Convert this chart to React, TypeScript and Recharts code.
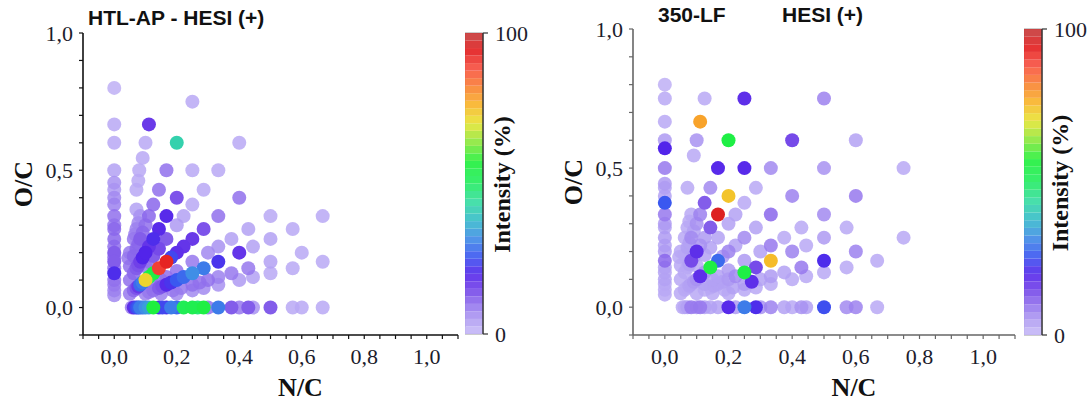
import React from 'react';
import { ScatterChart, Scatter, XAxis, YAxis, BarChart, Bar, ReferenceArea } from 'recharts';

type Pt = [number, number, number]; // [N/C, O/C, intensity %]

// ---------- HTL-AP - HESI (+) ----------
const leftColumn: Pt[] = [
  [0, 0.8, 2], [0, 0.667, 3], [0, 0.6, 3], [0, 0.5, 4], [0, 0.455, 6], [0, 0.429, 5], [0, 0.4, 7],
  [0, 0.375, 8], [0, 0.333, 10], [0, 0.3, 9], [0, 0.286, 11], [0, 0.25, 11], [0, 0.222, 10], [0, 0.2, 12],
  [0, 0.182, 11], [0, 0.167, 12], [0, 0.143, 10], [0, 0.125, 21], [0, 0.1, 10], [0, 0.083, 9], [0, 0.0625, 8], [0, 0.045, 7],
];
const leftRow: Pt[] = [
  [0.056, 0, 9], [0.0625, 0, 18], [0.071, 0, 24], [0.077, 0, 26], [0.083, 0, 30], [0.091, 0, 28], [0.1, 0, 32],
  [0.111, 0, 34], [0.125, 0, 56], [0.143, 0, 20], [0.154, 0, 24], [0.167, 0, 22], [0.182, 0, 30], [0.2, 0, 28],
  [0.222, 0, 52], [0.25, 0, 53], [0.267, 0, 48], [0.286, 0, 55], [0.3, 0, 10], [0.333, 0, 30], [0.375, 0, 12],
  [0.4, 0, 9], [0.429, 0, 12], [0.444, 0, 6], [0.5, 0, 12], [0.571, 0, 3], [0.6, 0, 3], [0.667, 0, 3],
];
const leftRayOne: Pt[] = [
  [0.05, 0.05, 9], [0.0625, 0.0625, 11], [0.071, 0.071, 13], [0.077, 0.077, 16], [0.083, 0.083, 28], [0.091, 0.091, 30],
  [0.1, 0.1, 72], [0.111, 0.111, 50], [0.125, 0.125, 55], [0.143, 0.143, 90], [0.167, 0.167, 93], [0.182, 0.182, 24],
  [0.2, 0.2, 18], [0.222, 0.222, 17], [0.25, 0.25, 16], [0.286, 0.286, 13], [0.333, 0.333, 10], [0.4, 0.4, 10],
];
const leftRayTwo: Pt[] = [
  [0.05, 0.1, 10], [0.0625, 0.125, 11], [0.071, 0.143, 12], [0.077, 0.154, 13], [0.083, 0.167, 15], [0.091, 0.182, 20],
  [0.1, 0.2, 20], [0.111, 0.222, 17], [0.125, 0.25, 21], [0.143, 0.286, 19], [0.167, 0.333, 19], [0.2, 0.4, 13], [0.25, 0.5, 3],
];
const leftRayThree: Pt[] = [
  [0.05, 0.15, 10], [0.0625, 0.1875, 11], [0.071, 0.214, 11], [0.077, 0.231, 11], [0.083, 0.25, 12], [0.091, 0.273, 11],
  [0.1, 0.3, 10], [0.111, 0.333, 11], [0.125, 0.375, 11], [0.143, 0.429, 10], [0.167, 0.5, 10], [0.2, 0.6, 42], [0.25, 0.75, 3],
];
const leftRayThreeHalves: Pt[] = [
  [0.1, 0.15, 9], [0.111, 0.167, 10], [0.125, 0.1875, 12], [0.143, 0.214, 14], [0.167, 0.25, 12], [0.2, 0.3, 5],
  [0.222, 0.333, 4], [0.25, 0.375, 3], [0.286, 0.429, 3], [0.333, 0.5, 3], [0.4, 0.6, 3],
];
const leftRayTwoThirds: Pt[] = [
  [0.125, 0.083, 9], [0.15, 0.1, 10], [0.167, 0.111, 10], [0.2, 0.133, 10], [0.25, 0.167, 9], [0.3, 0.2, 7],
  [0.333, 0.222, 6], [0.375, 0.25, 4], [0.429, 0.286, 4], [0.5, 0.333, 3],
];
const leftRayHalf: Pt[] = [
  [0.1, 0.05, 8], [0.111, 0.056, 9], [0.125, 0.0625, 10], [0.143, 0.071, 12], [0.154, 0.077, 13], [0.167, 0.083, 19],
  [0.182, 0.091, 22], [0.2, 0.1, 26], [0.222, 0.111, 28], [0.25, 0.125, 32], [0.286, 0.143, 30], [0.333, 0.167, 22],
  [0.4, 0.2, 17], [0.444, 0.222, 4], [0.5, 0.25, 4], [0.571, 0.286, 3], [0.667, 0.333, 3],
];
const leftRayThird: Pt[] = [
  [0.15, 0.05, 8], [0.1875, 0.0625, 9], [0.214, 0.071, 9], [0.25, 0.083, 10], [0.273, 0.091, 10], [0.3, 0.1, 10],
  [0.333, 0.111, 8], [0.375, 0.125, 9], [0.429, 0.143, 9], [0.5, 0.167, 4], [0.6, 0.2, 3],
];
const leftRayQuarter: Pt[] = [
  [0.2, 0.05, 7], [0.25, 0.0625, 7], [0.286, 0.071, 7], [0.333, 0.083, 6], [0.4, 0.1, 5], [0.444, 0.111, 4],
  [0.5, 0.125, 3], [0.571, 0.143, 3], [0.667, 0.167, 3],
];
const leftSteep: Pt[] = [
  [0.045, 0.18, 9], [0.05, 0.2, 9], [0.0625, 0.25, 9], [0.067, 0.267, 8], [0.071, 0.286, 8], [0.077, 0.308, 7],
  [0.083, 0.333, 6], [0.071, 0.357, 4], [0.071, 0.429, 3], [0.077, 0.462, 3], [0.08, 0.5, 3], [0.091, 0.545, 3],
  [0.1, 0.6, 3], [0.111, 0.667, 16],
];

// ---------- 350-LF  HESI (+) ----------
const rightColumn: Pt[] = [
  [0, 0.045, 3], [0, 0.0625, 3], [0, 0.083, 3], [0, 0.1, 4], [0, 0.125, 4], [0, 0.143, 4], [0, 0.167, 11], [0, 0.2, 5],
  [0, 0.222, 4], [0, 0.25, 5], [0, 0.286, 4], [0, 0.3, 5], [0, 0.333, 9], [0, 0.375, 26], [0, 0.4, 4], [0, 0.429, 4],
  [0, 0.444, 5], [0, 0.5, 9], [0, 0.571, 20], [0, 0.6, 5], [0, 0.667, 3], [0, 0.75, 3], [0, 0.8, 2],
];
const rightRow: Pt[] = [
  [0.056, 0, 3], [0.0625, 0, 3], [0.071, 0, 4], [0.083, 0, 9], [0.1, 0, 6], [0.111, 0, 9], [0.125, 0, 4], [0.143, 0, 4],
  [0.167, 0, 4], [0.2, 0, 19], [0.222, 0, 5], [0.25, 0, 30], [0.286, 0, 21], [0.3, 0, 6], [0.333, 0, 8], [0.375, 0, 4],
  [0.4, 0, 3], [0.429, 0, 6], [0.444, 0, 4], [0.5, 0, 25], [0.571, 0, 7], [0.6, 0, 8], [0.667, 0, 3],
];
const rightRayOne: Pt[] = [
  [0.05, 0.05, 3], [0.0625, 0.0625, 3], [0.071, 0.071, 3], [0.077, 0.077, 4], [0.083, 0.083, 4], [0.091, 0.091, 5],
  [0.1, 0.1, 6], [0.111, 0.111, 18], [0.125, 0.125, 6], [0.143, 0.143, 55], [0.167, 0.167, 28], [0.182, 0.182, 5],
  [0.2, 0.2, 8], [0.222, 0.222, 4], [0.25, 0.25, 7], [0.286, 0.286, 4], [0.333, 0.333, 11], [0.4, 0.4, 8],
  [0.5, 0.5, 6], [0.6, 0.6, 4],
];
const rightRayTwo: Pt[] = [
  [0.05, 0.1, 3], [0.0625, 0.125, 3], [0.071, 0.143, 3], [0.077, 0.154, 4], [0.083, 0.167, 14], [0.091, 0.182, 5],
  [0.1, 0.2, 18], [0.111, 0.222, 6], [0.125, 0.25, 5], [0.143, 0.286, 12], [0.167, 0.333, 95], [0.2, 0.4, 74], [0.25, 0.5, 19],
];
const rightRayThree: Pt[] = [
  [0.05, 0.15, 3], [0.0625, 0.1875, 3], [0.071, 0.214, 4], [0.077, 0.231, 4], [0.083, 0.25, 7], [0.091, 0.273, 4],
  [0.1, 0.3, 6], [0.111, 0.333, 8], [0.125, 0.375, 12], [0.143, 0.429, 7], [0.167, 0.5, 19], [0.2, 0.6, 55], [0.25, 0.75, 18],
];
const rightRayThreeHalves: Pt[] = [
  [0.1, 0.15, 3], [0.125, 0.1875, 4], [0.143, 0.214, 4], [0.167, 0.25, 4], [0.2, 0.3, 4], [0.222, 0.333, 4],
  [0.25, 0.375, 3], [0.286, 0.429, 3], [0.333, 0.5, 7], [0.4, 0.6, 14], [0.5, 0.75, 8],
];
const rightRayTwoThirds: Pt[] = [
  [0.125, 0.083, 4], [0.15, 0.1, 4], [0.167, 0.111, 4], [0.2, 0.133, 5], [0.25, 0.167, 5], [0.3, 0.2, 4],
  [0.333, 0.222, 9], [0.375, 0.25, 3], [0.429, 0.286, 3], [0.5, 0.333, 7], [0.6, 0.4, 9], [0.75, 0.5, 3],
];
const rightRayHalf: Pt[] = [
  [0.1, 0.05, 3], [0.125, 0.0625, 3], [0.143, 0.071, 3], [0.154, 0.077, 4], [0.167, 0.083, 4], [0.182, 0.091, 4],
  [0.2, 0.1, 5], [0.222, 0.111, 7], [0.25, 0.125, 55], [0.286, 0.143, 14], [0.333, 0.167, 75], [0.4, 0.2, 8],
  [0.444, 0.222, 3], [0.5, 0.25, 5], [0.571, 0.286, 3],
];
const rightRayThird: Pt[] = [
  [0.15, 0.05, 3], [0.1875, 0.0625, 3], [0.214, 0.071, 4], [0.25, 0.083, 5], [0.273, 0.091, 18], [0.3, 0.1, 4],
  [0.333, 0.111, 5], [0.375, 0.125, 4], [0.429, 0.143, 9], [0.5, 0.167, 21], [0.6, 0.2, 8], [0.75, 0.25, 3],
];
const rightRayQuarter: Pt[] = [
  [0.2, 0.05, 3], [0.25, 0.0625, 3], [0.286, 0.071, 3], [0.333, 0.083, 3], [0.4, 0.1, 3], [0.444, 0.111, 3],
  [0.5, 0.125, 3], [0.571, 0.143, 3], [0.667, 0.167, 3],
];
const rightSteep: Pt[] = [
  [0.045, 0.18, 3], [0.05, 0.2, 3], [0.0625, 0.25, 3], [0.071, 0.286, 3], [0.077, 0.308, 3], [0.083, 0.333, 3],
  [0.071, 0.429, 3], [0.091, 0.545, 3], [0.1, 0.6, 6], [0.111, 0.667, 78], [0.125, 0.75, 3],
];

// ---------- axes ----------
const X_TICKS = [-0.1, -0.05, 0, 0.05, 0.1, 0.15, 0.2, 0.25, 0.3, 0.35, 0.4, 0.45, 0.5, 0.55, 0.6, 0.65, 0.7, 0.75, 0.8, 0.85, 0.9, 0.95, 1.0, 1.05, 1.1];
const Y_TICKS = [-0.1, 0, 0.1, 0.2, 0.3, 0.4, 0.5, 0.6, 0.7, 0.8, 0.9, 1.0];
const X_LABELS = [0, 0.2, 0.4, 0.6, 0.8, 1.0];
const Y_LABELS = [0, 0.5, 1.0];
const CB_TICKS = [0, 100];

// colour scale of the intensity bar (position %, colour)
const STOPS: [number, string][] = [
  [0, '#c8bdf7'], [5, '#ae9af2'], [10, '#9070ec'], [15, '#7040e8'], [20, '#5224ea'], [26, '#3a58f0'],
  [32, '#3f8ee6'], [38, '#34bcc8'], [44, '#34dca0'], [50, '#22ec60'], [57, '#1ef03a'], [63, '#80e83c'],
  [70, '#e8e432'], [76, '#f8b428'], [82, '#f88030'], [88, '#f85040'], [94, '#e21c1c'], [100, '#c43a3a'],
];

const SERIF = '"Liberation Serif", "Times New Roman", serif';
const SANS = '"Liberation Sans", Arial, sans-serif';
const TEXT = '#1c1c2c';

function hex(c: string) {
  return [parseInt(c.slice(1, 3), 16), parseInt(c.slice(3, 5), 16), parseInt(c.slice(5, 7), 16)];
}
function colorAt(v: number) {
  const t = Math.max(0, Math.min(100, v));
  for (let k = 0; k < STOPS.length - 1; k++) {
    const [a, ca] = STOPS[k];
    const [b, cb] = STOPS[k + 1];
    if (t <= b) {
      const f = (t - a) / (b - a);
      const A = hex(ca), B = hex(cb);
      const m = A.map((x, j) => Math.round(x + (B[j] - x) * f));
      return `rgb(${m[0]},${m[1]},${m[2]})`;
    }
  }
  return STOPS[STOPS.length - 1][1];
}

const fmt = (labels: number[]) => (v: number) =>
  labels.some((l) => Math.abs(l - v) < 1e-9) ? v.toFixed(1).replace('.', ',') : '';

const Dot = (props: any) => {
  const { cx, cy, payload } = props;
  if (cx == null || cy == null) return null;
  const i = payload.i;
  return <circle cx={cx} cy={cy} r={7} fill={colorAt(i)} fillOpacity={i < 12 ? 0.85 : 1} />;
};

type PanelProps = {
  groups: Pt[][];
  left: number;
  width: number;
  margin: { top: number; right: number; bottom: number; left: number };
  axisColor: string;
};

function Panel({ groups, left, width, margin, axisColor }: PanelProps) {
  const data = groups
    .flat()
    .map(([x, y, i]) => ({ x, y, i }))
    .sort((a, b) => a.i - b.i);
  return (
    <div style={{ position: 'absolute', left, top: 0 }}>
      <ScatterChart width={width} height={403} margin={margin}>
        <XAxis
          type="number"
          dataKey="x"
          domain={[-0.1, 1.1]}
          ticks={X_TICKS}
          interval={0}
          allowDataOverflow
          height={40}
          tickSize={4}
          tickMargin={9}
          tickFormatter={fmt(X_LABELS)}
          tick={{ fill: TEXT, fontSize: 22, fontFamily: SERIF }}
          axisLine={{ stroke: axisColor, strokeWidth: 1.6 }}
          tickLine={{ stroke: axisColor, strokeWidth: 1.2 }}
          label={{
            content: (p: any) => {
              const vb = p.viewBox;
              return (
                <text x={vb.x + vb.width / 2 + 30} y={vb.y + 61} textAnchor="middle"
                  style={{ fontFamily: SERIF, fontWeight: 'bold', fontSize: 26, fill: '#111' }}>N/C</text>
              );
            },
          }}
        />
        <YAxis
          type="number"
          dataKey="y"
          domain={[-0.1, 1.0]}
          ticks={Y_TICKS}
          interval={0}
          allowDataOverflow
          width={60}
          tickSize={4}
          tickMargin={6}
          tickFormatter={fmt(Y_LABELS)}
          tick={{ fill: TEXT, fontSize: 22, fontFamily: SERIF }}
          axisLine={{ stroke: axisColor, strokeWidth: 1.6 }}
          tickLine={{ stroke: axisColor, strokeWidth: 1.2 }}
          label={{
            content: (p: any) => {
              const vb = p.viewBox;
              const cx = vb.x + vb.width - 51;
              const cy = vb.y + vb.height / 2;
              return (
                <text x={cx} y={cy} textAnchor="middle" transform={`rotate(-90 ${cx} ${cy})`}
                  style={{ fontFamily: SERIF, fontWeight: 'bold', fontSize: 26, fill: '#111' }}>O/C</text>
              );
            },
          }}
        />
        <Scatter data={data} isAnimationActive={false} shape={Dot} />
      </ScatterChart>
    </div>
  );
}

const BAND_COUNT = 40;
const BAND_SIZE = 100 / BAND_COUNT;
const BAND_KEYS = Array.from({ length: BAND_COUNT }, (_, k) => `b${k}`);

function ColorBar({ left, top, bottom, labelGap }: { left: number; top: number; bottom: number; labelGap: number }) {
  const row: Record<string, any> = { k: 'cb' };
  BAND_KEYS.forEach((key) => (row[key] = BAND_SIZE));
  return (
    <div style={{ position: 'absolute', left, top: 0 }}>
      <BarChart width={18 + 70} height={403} data={[row]} margin={{ top, right: 0, bottom: 403 - bottom, left: 0 }}
        barCategoryGap={0} barGap={0}>
        <XAxis dataKey="k" hide />
        <YAxis
          orientation="right"
          type="number"
          domain={[0, 100]}
          ticks={CB_TICKS}
          interval={0}
          width={70}
          tickSize={5}
          tickMargin={7}
          tick={{ fill: TEXT, fontSize: 22, fontFamily: SERIF }}
          axisLine={{ stroke: '#333', strokeWidth: 1.4 }}
          tickLine={{ stroke: '#333', strokeWidth: 1.2 }}
          label={{
            content: (p: any) => {
              const vb = p.viewBox;
              const cx = vb.x + labelGap;
              const cy = vb.y + vb.height / 2 + 1;
              return (
                <text x={cx} y={cy} textAnchor="middle" transform={`rotate(-90 ${cx} ${cy})`}
                  style={{ fontFamily: SERIF, fontWeight: 'bold', fontSize: 24, fill: '#111' }}>Intensity (%)</text>
              );
            },
          }}
        />
        {BAND_KEYS.map((key, k) => (
          <Bar key={key} dataKey={key} stackId="a" fill={colorAt((k + 0.5) * BAND_SIZE)} fillOpacity={0.9}
            isAnimationActive={false} />
        ))}
        <ReferenceArea y1={0} y2={100} fill="none" stroke="#9a9a9a" strokeWidth={1} />
      </BarChart>
    </div>
  );
}

export default function App() {
  const titleStyle = { fontFamily: SANS, fontWeight: 'bold' as const, fontSize: 21, fill: '#111' };
  return (
    <div style={{ position: 'absolute', left: 0, top: 0, width: 1092, height: 403, background: '#fff', overflow: 'hidden' }}>
      <Panel
        groups={[leftColumn, leftRow, leftSteep, leftRayQuarter, leftRayThird, leftRayHalf, leftRayTwoThirds, leftRayThreeHalves, leftRayThree, leftRayTwo, leftRayOne]}
        left={0}
        width={470}
        margin={{ top: 33, right: 12, bottom: 28, left: 23 }}
        axisColor="#111"
      />
      <ColorBar left={465} top={33} bottom={334} labelGap={27} />
      <Panel
        groups={[rightColumn, rightRow, rightSteep, rightRayQuarter, rightRayThird, rightRayHalf, rightRayTwoThirds, rightRayThreeHalves, rightRayThree, rightRayTwo, rightRayOne]}
        left={550}
        width={470}
        margin={{ top: 29, right: 5, bottom: 28, left: 23 }}
        axisColor="#666"
      />
      <ColorBar left={1024} top={29} bottom={335} labelGap={26} />
      <svg width={1092} height={403} style={{ position: 'absolute', left: 0, top: 0, pointerEvents: 'none' }}>
        <text x={88} y={25} style={titleStyle}>HTL-AP - HESI (+)</text>
        <text x={658} y={22} style={titleStyle}>350-LF</text>
        <text x={782} y={22} style={titleStyle}>HESI (+)</text>
      </svg>
    </div>
  );
}
